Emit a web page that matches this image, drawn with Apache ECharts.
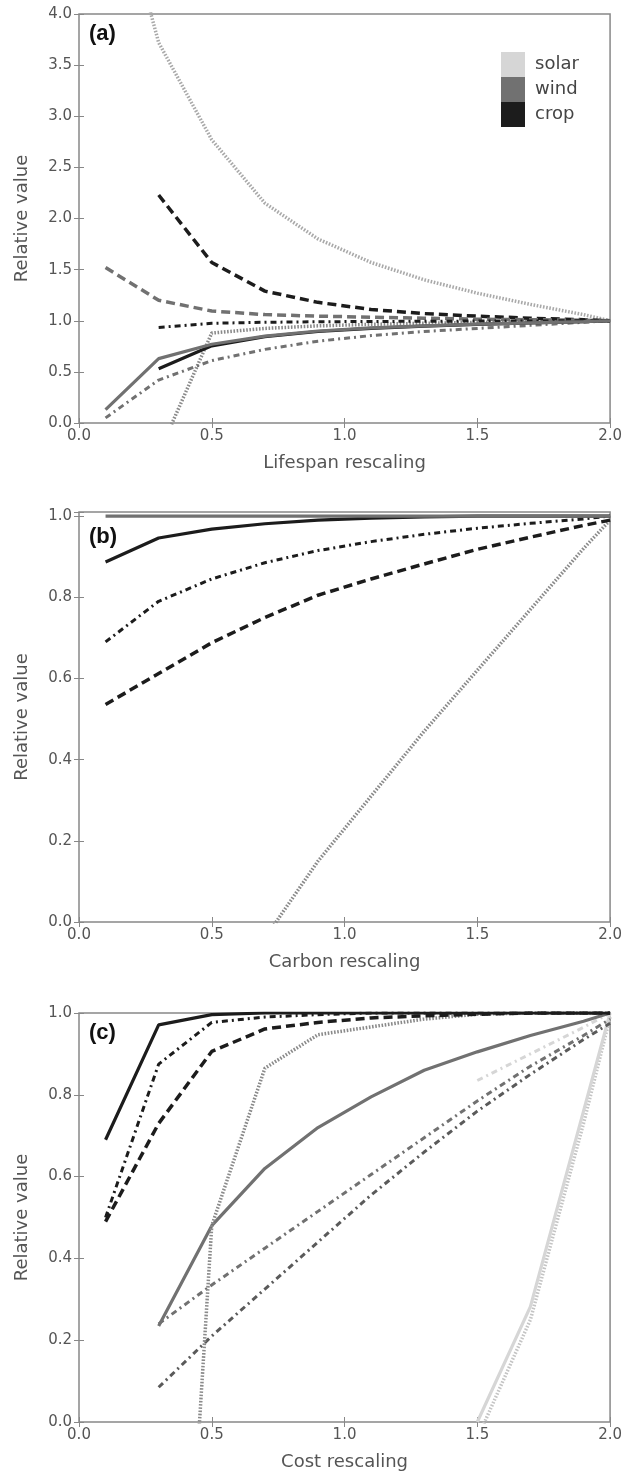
<!DOCTYPE html>
<html>
<head>
<meta charset="utf-8">
<script src="https://cdn.jsdelivr.net/npm/echarts@6/dist/echarts.min.js"></script>
<style>
  html, body { margin: 0; padding: 0; background: #fff; overflow: hidden; }
  #chart { width: 625px; height: 1473px; }
</style>
</head>
<body>
<div id="chart"></div>
<script>
// x positions of the model runs
const xFull = [0.1, 0.3, 0.5, 0.7, 0.9, 1.1, 1.3, 1.5, 1.7, 1.9, 2.0];
const xFrom03 = [0.3, 0.5, 0.7, 0.9, 1.1, 1.3, 1.5, 1.7, 1.9, 2.0];
const xFrom07 = [0.7, 0.9, 1.1, 1.3, 1.5, 1.7, 1.9, 2.0];
const xFrom15 = [1.5, 1.7, 1.9, 2.0];

const technologies = ['solar', 'wind', 'crop'];

// (a) lifespan rescaling
const aSolarDot = [5.65, 3.72, 2.77, 2.15, 1.8, 1.57, 1.4, 1.27, 1.16, 1.06, 1.0];
const aWindDot = [-0.3, 0.88, 0.925, 0.95, 0.965, 0.975, 0.985, 0.99, 0.995, 1.0];
const aCropDash = [2.23, 1.57, 1.29, 1.18, 1.11, 1.07, 1.045, 1.025, 1.01, 1.0];
const aWindDash = [1.52, 1.2, 1.095, 1.06, 1.045, 1.035, 1.025, 1.015, 1.01, 1.005, 1.0];
const aCropDashDot = [0.935, 0.975, 0.985, 0.99, 0.993, 0.995, 0.997, 0.998, 1.0, 1.0];
const aWindDashDot = [0.05, 0.42, 0.61, 0.72, 0.8, 0.855, 0.895, 0.925, 0.955, 0.985, 1.0];
const aWindSolid = [0.13, 0.63, 0.77, 0.85, 0.9, 0.93, 0.95, 0.967, 0.98, 0.992, 1.0];
const aCropSolid = [0.53, 0.755, 0.845, 0.895, 0.925, 0.948, 0.965, 0.978, 0.99, 1.0];

// (b) carbon rescaling
const bWindSolid = [1, 1, 1, 1, 1, 1, 1, 1, 1, 1, 1];
const bCropSolid = [0.887, 0.946, 0.968, 0.981, 0.99, 0.995, 0.998, 1.0, 1.0, 1.0, 1.0];
const bCropDashDot = [0.69, 0.79, 0.845, 0.885, 0.915, 0.937, 0.955, 0.97, 0.982, 0.993, 1.0];
const bCropDash = [0.536, 0.612, 0.688, 0.75, 0.805, 0.845, 0.882, 0.918, 0.948, 0.977, 0.99];
const bWindDot = [-0.04, 0.15, 0.31, 0.47, 0.62, 0.77, 0.92, 0.99];

// (c) cost rescaling
const cCropSolid = [0.69, 0.971, 0.996, 1, 1, 1, 1, 1, 1, 1, 1];
const cCropDashDot = [0.5, 0.875, 0.977, 0.99, 0.996, 1, 1, 1, 1, 1, 1];
const cCropDash = [0.49, 0.73, 0.906, 0.961, 0.977, 0.988, 0.993, 0.997, 1, 1, 1];
const cWindDot = [-1.6, 0.48, 0.865, 0.947, 0.966, 0.985, 0.997, 1, 1, 1];
const cWindSolid = [0.235, 0.48, 0.62, 0.72, 0.795, 0.86, 0.905, 0.945, 0.98, 1.0];
const cWindDashDot = [0.24, 0.335, 0.425, 0.515, 0.605, 0.695, 0.785, 0.87, 0.945, 0.985];
const cWindSparse = [0.085, 0.21, 0.325, 0.44, 0.555, 0.66, 0.76, 0.85, 0.935, 0.975];
const cSolarDashDot = [0.835, 0.9, 0.965, 1.0];
const cSolarSolid = [0.0, 0.282, 0.76, 1.0];
const cSolarDot = [-0.04, 0.25, 0.73, 0.99];

const COLORS = { solar: '#d6d6d6', wind: '#717171', crop: '#1c1c1c' };
const FONT = 'DejaVu Sans';

const STYLES = {
  solid: { type: 'solid', width: 3.2 },
  dashed: { type: [9, 5], width: 3.5 },
  dashdot: { type: [6, 4, 2, 4], width: 3 },
  dotted: { type: [1.6, 1.6], width: 3.5 }
};

function line(tech, style, xArr, yArr, panel, color) {
  return {
    name: tech,
    type: 'line',
    xAxisIndex: panel * 2,
    yAxisIndex: panel * 2,
    data: xArr.map((x, i) => [x, yArr[i]]),
    symbol: 'none',
    clip: true,
    silent: true,
    itemStyle: { color: COLORS[tech] },
    lineStyle: Object.assign({ color: color || COLORS[tech] }, STYLES[style])
  };
}

const panels = [
  { top: 14, height: 409, max: 4, interval: 0.5, name: 'Lifespan rescaling' },
  { top: 512, height: 410, max: 1.01, interval: 0.2, name: 'Carbon rescaling' },
  { top: 1013, height: 409, max: 1, interval: 0.2, name: 'Cost rescaling' }
];

// one decimal, and no label for the odd 1.01 end tick of panel (b)
const fmt = v => (Math.abs(v * 10 - Math.round(v * 10)) < 1e-6 ? v.toFixed(1) : '');
const tick = { show: true, inside: true, length: 5, lineStyle: { color: '#888', width: 1 } };
const label = { fontFamily: FONT, fontSize: 15, color: '#555' };

const grid = [], xAxis = [], yAxis = [];
panels.forEach((p, i) => {
  grid.push({ left: 79, top: p.top, width: 533, height: p.height, show: true,
    borderColor: '#888', borderWidth: 1.5, backgroundColor: 'transparent' });
  const xBase = { type: 'value', gridIndex: i, min: 0, max: 2, interval: 0.5,
    axisLine: { show: false }, splitLine: { show: false }, axisTick: tick };
  xAxis.push(Object.assign({}, xBase, {
    position: 'bottom',
    name: p.name, nameLocation: 'middle', nameGap: 31,
    nameTextStyle: { fontFamily: FONT, fontSize: 18, color: '#555' },
    axisLabel: Object.assign({ margin: 6, formatter: fmt }, label)
  }));
  xAxis.push(Object.assign({}, xBase, { position: 'top', axisLabel: { show: false } }));
  const yBase = { type: 'value', gridIndex: i, min: 0, max: p.max, interval: p.interval,
    axisLine: { show: false }, splitLine: { show: false }, axisTick: tick };
  yAxis.push(Object.assign({}, yBase, {
    position: 'left',
    name: 'Relative value', nameLocation: 'middle', nameGap: 48, nameRotate: 90,
    nameTextStyle: { fontFamily: FONT, fontSize: 18, color: '#555' },
    axisLabel: Object.assign({ margin: 7, formatter: fmt }, label)
  }));
  yAxis.push(Object.assign({}, yBase, { position: 'right', axisLabel: { show: false } }));
});

const series = [
  // (a)
  line('solar', 'dotted', xFull, aSolarDot, 0, '#a9a9a9'),
  line('wind', 'dotted', xFrom03, aWindDot, 0, '#8a8a8a'),
  line('crop', 'dashed', xFrom03, aCropDash, 0),
  line('wind', 'dashed', xFull, aWindDash, 0),
  line('crop', 'dashdot', xFrom03, aCropDashDot, 0),
  line('wind', 'dashdot', xFull, aWindDashDot, 0),
  line('crop', 'solid', xFrom03, aCropSolid, 0),
  line('wind', 'solid', xFull, aWindSolid, 0),
  // (b)
  line('wind', 'dotted', xFrom07, bWindDot, 1, '#8a8a8a'),
  line('crop', 'dashed', xFull, bCropDash, 1),
  line('crop', 'dashdot', xFull, bCropDashDot, 1),
  line('crop', 'solid', xFull, bCropSolid, 1),
  line('wind', 'solid', xFull, bWindSolid, 1),
  // (c)
  line('solar', 'dotted', xFrom15, cSolarDot, 2, '#c4c4c4'),
  line('solar', 'solid', xFrom15, cSolarSolid, 2),
  line('solar', 'dashdot', xFrom15, cSolarDashDot, 2),
  line('wind', 'dashdot', xFrom03, cWindSparse, 2, '#5a5a5a'),
  line('wind', 'dashdot', xFrom03, cWindDashDot, 2),
  line('wind', 'solid', xFrom03, cWindSolid, 2),
  line('wind', 'dotted', xFrom03, cWindDot, 2, '#8a8a8a'),
  line('crop', 'dashed', xFull, cCropDash, 2),
  line('crop', 'dashdot', xFull, cCropDashDot, 2),
  line('crop', 'solid', xFull, cCropSolid, 2)
];

const panelLabel = (text, top) => ({
  type: 'text', left: 89, top: top, z: 100,
  style: { text: text, font: 'bold 22px "Liberation Sans"', fill: '#111' }
});

const chart = echarts.init(document.getElementById('chart'), null, { renderer: 'canvas' });
chart.setOption({
  animation: false,
  backgroundColor: '#fff',
  grid: grid,
  xAxis: xAxis,
  yAxis: yAxis,
  legend: {
    data: technologies,
    orient: 'vertical',
    left: 496, top: 47,
    itemWidth: 24, itemHeight: 25, itemGap: 0,
    icon: 'rect',
    selectedMode: false,
    itemStyle: { borderWidth: 0 },
    textStyle: { fontFamily: FONT, fontSize: 18, color: '#444', padding: [0, 0, 0, 5] }
  },
  graphic: [
    panelLabel('(a)', 23),
    panelLabel('(b)', 526),
    panelLabel('(c)', 1022)
  ],
  series: series
});
</script>
</body>
</html>
